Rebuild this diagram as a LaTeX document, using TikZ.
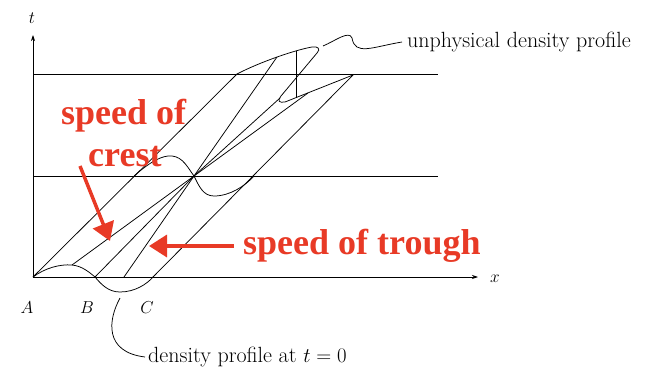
\documentclass[tikz,border=0pt]{standalone}
\usepackage{fontspec}
\newfontfamily\redfont{Liberation Serif}
\usetikzlibrary{arrows.meta}
\definecolor{annot}{RGB}{232,58,38}
\begin{document}
\begin{tikzpicture}[x=1pt,y=-1pt,
  curve/.style={line width=0.75pt,black},
  axis/.style={line width=0.75pt,-{Stealth[length=6pt,width=4pt]}},
  lbl/.style={font=\fontsize{19}{22}\selectfont, inner sep=0pt},
  txt/.style={font=\fontsize{22}{26}\selectfont, inner sep=0pt, anchor=west},
  redlbl/.style={text=annot,font=\redfont\bfseries\fontsize{36}{40}\selectfont, inner sep=0pt, anchor=base west},
  redarrow/.style={draw=annot, line width=3.5pt, -{Triangle[length=18pt,width=22pt]}}]
\useasboundingbox (0,0) rectangle (647,369);

% key points
\coordinate (O) at (33,277);
\coordinate (ttip) at (33,35);
\coordinate (xtip) at (478,277);
\coordinate (A) at (33,277);
\coordinate (crest) at (72,265);
\coordinate (B) at (95,277);
\coordinate (P) at (124,277);
\coordinate (C) at (153,277);
\coordinate (conv) at (194,176);
\coordinate (Aend) at (237,74);
\coordinate (Cend) at (353,75);
\coordinate (hump) at (277,57);
\coordinate (corner) at (280,98);
\coordinate (lowfold) at (308,93);

% axes
\draw[axis] (O) -- (ttip);
\draw[axis] (O) -- (xtip);
\node[lbl] (tl) at (32,18) {$t$};
\node[lbl] (xl) at (495,279) {$x$};

% time levels
\draw[curve] (33,176) -- (438,176);
\draw[curve] (33,74) -- (438,74);

% initial profile
\draw[curve] (A) .. controls (45,268) and (60,264) .. (crest)
  .. controls (82,266) and (89,272) .. (B)
  .. controls (101,284) and (108,292) .. (120,292)
  .. controls (135,292) and (147,284) .. (C);

% profile at t1
\draw[curve] (134,176) .. controls (150,162) and (162,155) .. (172,156)
  .. controls (183,157) and (188,168) .. (conv)
  .. controls (199,186) and (203,196) .. (214,196)
  .. controls (230,196) and (245,186) .. (254,176);

% profile at t2 (multivalued)
\draw[curve] (Aend) .. controls (260,62) and (295,50) .. (312,47)
  .. controls (318,46) and (321,49) .. (317,53)
  -- (281,96) .. controls (277,101) and (279,103) .. (285,102) -- (Cend);
\draw[curve] (296,51) -- (296,97.6);

% characteristics
\draw[curve] (A) -- (Aend);
\draw[curve] (C) -- (Cend);
\draw[curve] (crest) -- (conv) -- (lowfold);
\draw[curve] (B) -- (conv) -- (corner);
\draw[curve] (P) -- (conv) -- (hump);

% labels A B C
\node[lbl] (la) at (27,308) {$A$};
\node[lbl] (lb) at (87,308) {$B$};
\node[lbl] (lc) at (147,308) {$C$};

% density profile at t=0
\node[txt] (dp) at (148,357) {density profile at $t=0$};
\coordinate (dpstart) at (120,298);
\draw[curve] (dpstart) .. controls (108,320) and (104,352) .. ([xshift=-3pt]dp.west);

% unphysical density profile
\node[txt] (up) at (407,42) {unphysical density profile};
\draw[curve] (323,46) .. controls (335,41) and (349,30) .. (352,38)
  .. controls (355,56) and (372,47) .. ([xshift=-5pt]up.west);

% red annotations
\node[redlbl] (s1) at (61,124) {speed of};
\node[redlbl] (s2) at (88,166) {crest};
\node[redlbl] (s3) at (243,254) {speed of trough};
\draw[redarrow] (80,166) -- (110,241);
\draw[redarrow] (234,246) -- (149,246);
\end{tikzpicture}
\end{document}
